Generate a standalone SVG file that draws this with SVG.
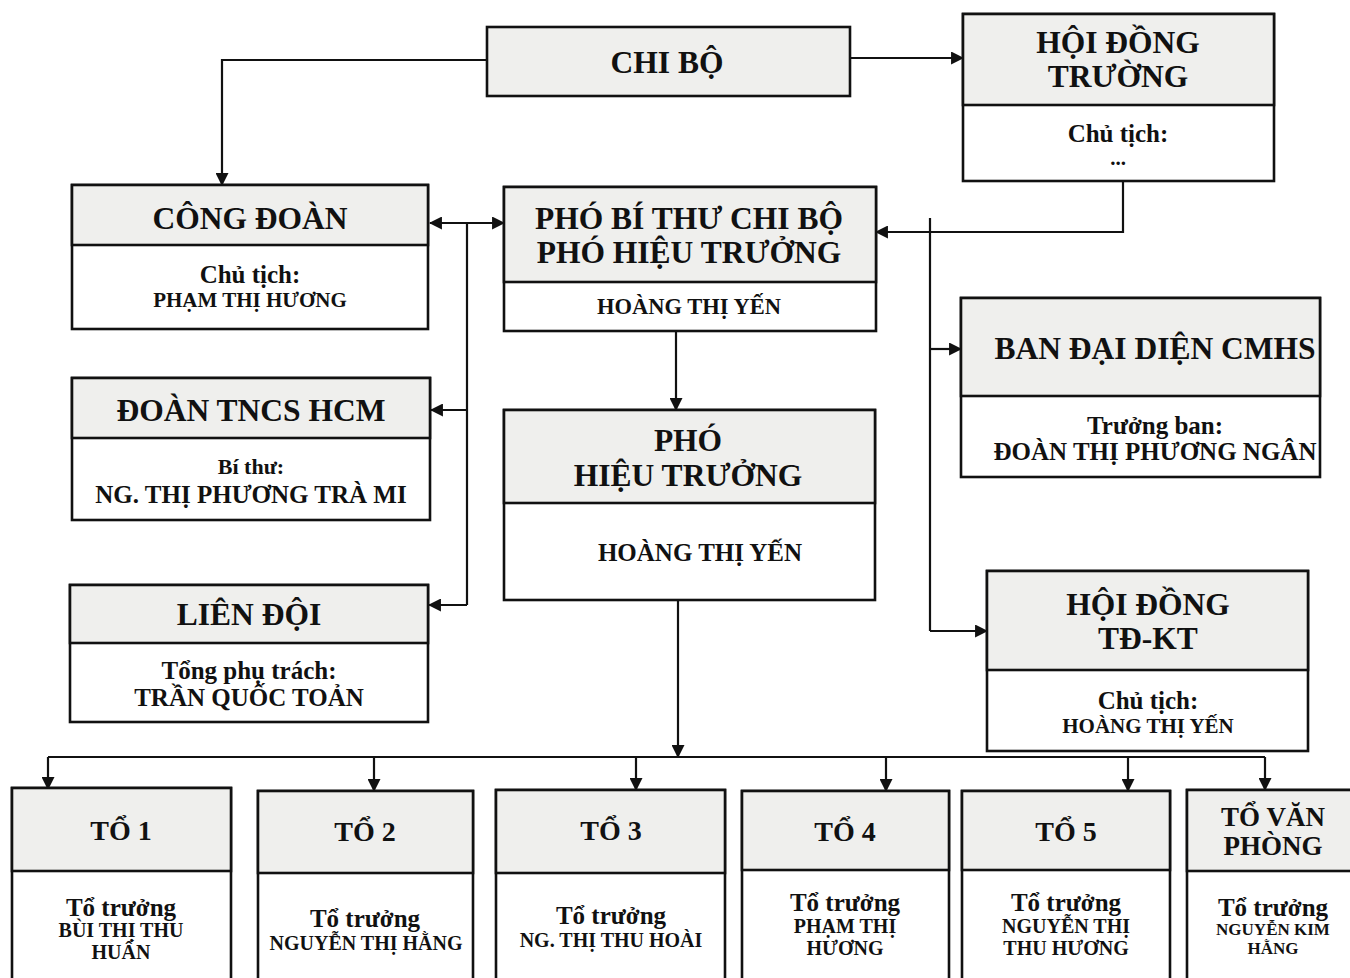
<svg xmlns="http://www.w3.org/2000/svg" width="1350" height="978" viewBox="0 0 1350 978">
<defs>
<style>
.box{fill:#fff;stroke:#111;stroke-width:2.6}
.hd{fill:#efefed;stroke:#111;stroke-width:2.6}
.ln{fill:none;stroke:#111;stroke-width:2.2}
text{font-family:"Liberation Serif","Times New Roman",serif;font-weight:bold;fill:#111;text-anchor:middle;dominant-baseline:central}
.t{font-size:31.5px}
.s{font-size:25px}
.n{font-size:21px}
</style>
<marker id="ah" viewBox="0 0 12 12" refX="11" refY="6" markerWidth="13" markerHeight="13" markerUnits="userSpaceOnUse" orient="auto-start-reverse">
<path d="M0,0 L12,6 L0,12 Z" fill="#111"/>
</marker>
</defs>
<rect width="1350" height="978" fill="#fff"/>

<g id="connectors">
<path class="ln" d="M487,60 H222 V185" marker-end="url(#ah)"/>
<path class="ln" d="M850,58 H963" marker-end="url(#ah)"/>
<path class="ln" d="M1123,181 V232 H876" marker-end="url(#ah)"/>
<path class="ln" d="M467,223 H430" marker-end="url(#ah)"/>
<path class="ln" d="M467,223 H504" marker-end="url(#ah)"/>
<path class="ln" d="M467,223 V605"/>
<path class="ln" d="M467,410 H431" marker-end="url(#ah)"/>
<path class="ln" d="M467,605 H429" marker-end="url(#ah)"/>
<path class="ln" d="M930,218 V631"/>
<path class="ln" d="M930,349 H961" marker-end="url(#ah)"/>
<path class="ln" d="M930,631 H987" marker-end="url(#ah)"/>
<path class="ln" d="M676,331 V410" marker-end="url(#ah)"/>
<path class="ln" d="M678,600 V757" marker-end="url(#ah)"/>
<path class="ln" d="M48,757 H1265"/>
<path class="ln" d="M48,757 V789" marker-end="url(#ah)"/>
<path class="ln" d="M374,757 V791" marker-end="url(#ah)"/>
<path class="ln" d="M636,757 V790" marker-end="url(#ah)"/>
<path class="ln" d="M886,757 V791" marker-end="url(#ah)"/>
<path class="ln" d="M1128,757 V791" marker-end="url(#ah)"/>
<path class="ln" d="M1265,757 V790" marker-end="url(#ah)"/>
</g>

<g id="chibo">
<rect class="hd" x="487" y="27" width="363" height="69"/>
<text class="t" x="667" y="62">CHI BỘ</text>
</g>

<g id="hoidongtruong">
<rect class="box" x="963" y="14" width="311" height="167"/>
<rect class="hd" x="963" y="14" width="311" height="91"/>
<text class="t" x="1118" y="42">HỘI ĐỒNG</text>
<text class="t" x="1118" y="76">TRƯỜNG</text>
<text class="s" x="1118" y="133">Chủ tịch:</text>
<text class="n" x="1118" y="158">...</text>
</g>

<g id="congdoan">
<rect class="box" x="72" y="185" width="356" height="144"/>
<rect class="hd" x="72" y="185" width="356" height="60"/>
<text class="t" x="250" y="218">CÔNG ĐOÀN</text>
<text class="s" x="250" y="274">Chủ tịch:</text>
<text class="n" x="250" y="300">PHẠM THỊ HƯƠNG</text>
</g>

<g id="phobithu">
<rect class="box" x="504" y="187" width="372" height="144"/>
<rect class="hd" x="504" y="187" width="372" height="95"/>
<text class="t" x="689" y="218">PHÓ BÍ THƯ CHI BỘ</text>
<text class="t" x="689" y="252">PHÓ HIỆU TRƯỞNG</text>
<text class="n" x="689" y="306" style="font-size:22.5px">HOÀNG THỊ YẾN</text>
</g>

<g id="doantncs">
<rect class="box" x="72" y="378" width="358" height="142"/>
<rect class="hd" x="72" y="378" width="358" height="60"/>
<text class="t" x="251" y="410">ĐOÀN TNCS HCM</text>
<text class="s" x="251" y="466" style="font-size:22px">Bí thư:</text>
<text class="s" x="251" y="494">NG. THỊ PHƯƠNG TRÀ MI</text>
</g>

<g id="liendoi">
<rect class="box" x="70" y="585" width="358" height="137"/>
<rect class="hd" x="70" y="585" width="358" height="58"/>
<text class="t" x="249" y="614">LIÊN ĐỘI</text>
<text class="s" x="249" y="670">Tổng phụ trách:</text>
<text class="s" x="249" y="697">TRẦN QUỐC TOẢN</text>
</g>

<g id="phohieutruong">
<rect class="box" x="504" y="410" width="371" height="190"/>
<rect class="hd" x="504" y="410" width="371" height="93"/>
<text class="t" x="688" y="440">PHÓ</text>
<text class="t" x="688" y="475">HIỆU TRƯỞNG</text>
<text class="s" x="700" y="552">HOÀNG THỊ YẾN</text>
</g>

<g id="bandaidien">
<rect class="box" x="961" y="298" width="359" height="179"/>
<rect class="hd" x="961" y="298" width="359" height="98"/>
<text class="t" x="1155" y="348">BAN ĐẠI DIỆN CMHS</text>
<text class="s" x="1155" y="425">Trưởng ban:</text>
<text class="s" x="1155" y="451">ĐOÀN THỊ PHƯƠNG NGÂN</text>
</g>

<g id="hoidongtdkt">
<rect class="box" x="987" y="571" width="321" height="180"/>
<rect class="hd" x="987" y="571" width="321" height="99"/>
<text class="t" x="1148" y="604">HỘI ĐỒNG</text>
<text class="t" x="1148" y="638">TĐ-KT</text>
<text class="s" x="1148" y="700">Chủ tịch:</text>
<text class="n" x="1148" y="726">HOÀNG THỊ YẾN</text>
</g>

<g id="to1">
<rect class="box" x="12" y="788" width="219" height="200"/>
<rect class="hd" x="12" y="788" width="219" height="83"/>
<text class="t" x="121" y="830" style="font-size:28px">TỔ 1</text>
<text class="s" x="121" y="907" style="font-size:25px">Tổ trưởng</text>
<text class="n" x="121" y="930" style="font-size:20px">BÙI THỊ THU</text>
<text class="n" x="121" y="952" style="font-size:20px">HUẤN</text>
</g>

<g id="to2">
<rect class="box" x="258" y="791" width="215" height="197"/>
<rect class="hd" x="258" y="791" width="215" height="82"/>
<text class="t" x="365" y="831" style="font-size:28px">TỔ 2</text>
<text class="s" x="365" y="918" style="font-size:25px">Tổ trưởng</text>
<text class="n" x="366" y="943" style="font-size:20px">NGUYỄN THỊ HẰNG</text>
</g>

<g id="to3">
<rect class="box" x="496" y="790" width="229" height="198"/>
<rect class="hd" x="496" y="790" width="229" height="83"/>
<text class="t" x="611" y="830" style="font-size:28px">TỔ 3</text>
<text class="s" x="611" y="915" style="font-size:25px">Tổ trưởng</text>
<text class="n" x="611" y="940" style="font-size:20px">NG. THỊ THU HOÀI</text>
</g>

<g id="to4">
<rect class="box" x="742" y="791" width="207" height="197"/>
<rect class="hd" x="742" y="791" width="207" height="79"/>
<text class="t" x="845" y="831" style="font-size:28px">TỔ 4</text>
<text class="s" x="845" y="902" style="font-size:25px">Tổ trưởng</text>
<text class="n" x="845" y="926" style="font-size:20px">PHẠM THỊ</text>
<text class="n" x="845" y="948" style="font-size:20px">HƯƠNG</text>
</g>

<g id="to5">
<rect class="box" x="962" y="791" width="208" height="197"/>
<rect class="hd" x="962" y="791" width="208" height="79"/>
<text class="t" x="1066" y="831" style="font-size:28px">TỔ 5</text>
<text class="s" x="1066" y="902" style="font-size:25px">Tổ trưởng</text>
<text class="n" x="1066" y="926" style="font-size:20px">NGUYỄN THỊ</text>
<text class="n" x="1066" y="948" style="font-size:20px">THU HƯƠNG</text>
</g>

<g id="tovanphong">
<rect class="box" x="1187" y="790" width="175" height="198"/>
<rect class="hd" x="1187" y="790" width="175" height="81"/>
<text class="t" x="1273" y="817" style="font-size:27px">TỔ VĂN</text>
<text class="t" x="1273" y="846" style="font-size:27px">PHÒNG</text>
<text class="s" x="1273" y="907" style="font-size:25px">Tổ trưởng</text>
<text class="n" x="1273" y="929" style="font-size:17px">NGUYỄN KIM</text>
<text class="n" x="1273" y="948" style="font-size:17px">HẰNG</text>
</g>
</svg>
